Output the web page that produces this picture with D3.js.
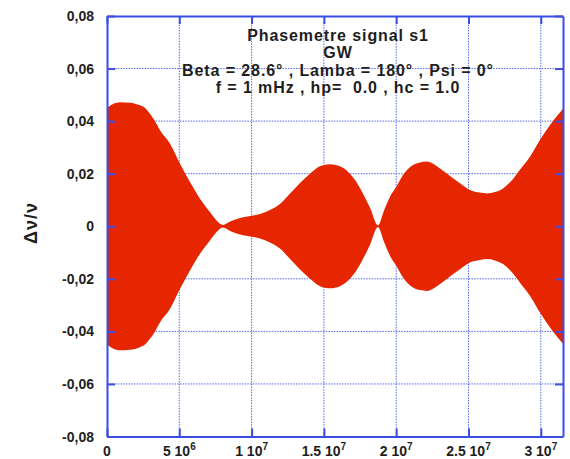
<!DOCTYPE html>
<html>
<head>
<meta charset="utf-8">
<script src="https://cdn.jsdelivr.net/npm/d3@7"></script>
<style>
  html, body { margin: 0; padding: 0; background: #fff; }
  svg { display: block; }
  text { font-family: "Liberation Sans", Arial, sans-serif; font-weight: bold; fill: #1e1e1e; white-space: pre; }
</style>
</head>
<body>
<svg id="chart" width="570" height="459"></svg>
<script>
// Time (in units of 1e6 s) and envelope amplitude of the s1 phasemeter signal
const timeMs = [0, 0.41, 0.90, 1.59, 2.28, 2.63, 2.97, 3.32, 3.67, 4.36, 5.05, 5.74, 6.43, 7.12, 7.61, 8.02,
  8.51, 9.13, 10.58, 11.27, 11.96, 12.66, 13.35, 14.04, 14.73, 15.42, 16.11, 16.80, 17.29, 17.70, 18.19, 18.74,
  19.16, 19.57, 20.06, 20.47, 21.16, 21.65, 22.13, 22.55, 23.03, 23.93, 24.55, 25.10, 25.79, 26.28, 26.83,
  27.39, 28.08, 28.56, 29.25, 29.94, 30.64, 31.536];
const amplitude = [0.0450, 0.0465, 0.0472, 0.0470, 0.0460, 0.0450, 0.0428, 0.0400, 0.0365, 0.0314, 0.0238,
  0.0168, 0.0105, 0.0054, 0.0020, 0.0005, 0.0018, 0.0030, 0.0047, 0.0062, 0.0085, 0.0125, 0.0165, 0.0200,
  0.0228, 0.0236, 0.0228, 0.0200, 0.0165, 0.0125, 0.0070, 0.0003, 0.0060, 0.0112, 0.0155, 0.0195, 0.0233,
  0.0243, 0.0246, 0.0238, 0.0220, 0.0183, 0.0158, 0.0138, 0.0128, 0.0125, 0.0130, 0.0144, 0.0180, 0.0215,
  0.0264, 0.0328, 0.0385, 0.0447];

const yTicks = [-0.08, -0.06, -0.04, -0.02, 0, 0.02, 0.04, 0.06, 0.08];
const yTickLabels = ["-0,08", "-0,06", "-0,04", "-0,02", "0", "0,02", "0,04", "0,06", "0,08"];
const xTicks = [0, 5e6, 1e7, 1.5e7, 2e7, 2.5e7, 3e7];
const xTickMantissa = ["0", "5", "1", "1.5", "2", "2.5", "3"];
const xTickExponent = ["", "6", "7", "7", "7", "7", "7"];
const titleLines = ["Phasemetre signal s1", "GW", "Beta = 28.6° , Lamba = 180° , Psi = 0°", "f = 1 mHz , hp=  0.0 , hc = 1.0"];

const margin = { left: 107, right: 7, top: 16, bottom: 22.5 };
const W = 570, H = 459;
const svg = d3.select("#chart");

const x = d3.scaleLinear().domain([0, 3.1536e7]).range([margin.left, W - margin.right]);
const y = d3.scaleLinear().domain([-0.08, 0.08]).range([H - margin.bottom, margin.top]);

const frameColor = "#3b4de3";
const gridColor = "#5466ee";
const fillColor = "#e62600";

// Dotted grid
const grid = svg.append("g");
grid.selectAll("line.gx").data(xTicks.slice(1)).join("line")
  .attr("x1", d => x(d)).attr("x2", d => x(d))
  .attr("y1", y(-0.08)).attr("y2", y(0.08))
  .attr("stroke", gridColor).attr("stroke-width", 1).attr("stroke-dasharray", "1.5,1.2");
grid.selectAll("line.gy").data(yTicks.slice(1, -1)).join("line")
  .attr("x1", x.range()[0]).attr("x2", x.range()[1])
  .attr("y1", d => y(d)).attr("y2", d => y(d))
  .attr("stroke", gridColor).attr("stroke-width", 1).attr("stroke-dasharray", "1.5,1.2");

// Title block
const title = svg.append("g");
titleLines.forEach((t, i) => {
  title.append("text")
    .attr("x", 338).attr("y", 41 + i * 17.3)
    .attr("text-anchor", "middle").attr("font-size", 16)
    .attr("letter-spacing", 0.9)
    .text(t);
});

// Signal envelope (fast oscillation fills the band)
const pts = timeMs.map((t, i) => ({ t: t * 1e6, a: amplitude[i] }));
const area = d3.area()
  .x(d => x(d.t))
  .y0(d => y(-d.a))
  .y1(d => y(d.a))
  .curve(d3.curveMonotoneX);
svg.append("path").datum(pts)
  .attr("d", area)
  .attr("fill", fillColor);

// Axes with inward ticks on all four sides
const axisLeft = d3.axisLeft(y).tickValues(yTicks).tickSizeInner(-8).tickSizeOuter(0).tickFormat("");
const axisRight = d3.axisRight(y).tickValues(yTicks).tickSizeInner(-8).tickSizeOuter(0).tickFormat("");
const axisBottom = d3.axisBottom(x).tickValues(xTicks).tickSizeInner(-8).tickSizeOuter(0).tickFormat("");
const axisTop = d3.axisTop(x).tickValues(xTicks).tickSizeInner(-8).tickSizeOuter(0).tickFormat("");

function styleAxis(g) {
  g.selectAll("path, line").attr("stroke", frameColor).attr("stroke-width", 2);
}
svg.append("g").attr("transform", `translate(${x.range()[0]},0)`).call(axisLeft).call(styleAxis);
svg.append("g").attr("transform", `translate(${x.range()[1]},0)`).call(axisRight).call(styleAxis);
svg.append("g").attr("transform", `translate(0,${y.range()[0]})`).call(axisBottom).call(styleAxis);
svg.append("g").attr("transform", `translate(0,${y.range()[1]})`).call(axisTop).call(styleAxis);

// Y tick labels
svg.append("g").selectAll("text").data(yTicks).join("text")
  .attr("x", 94).attr("y", d => y(d) + 5)
  .attr("text-anchor", "end").attr("font-size", 14)
  .text((d, i) => yTickLabels[i]);

// X tick labels with superscript exponents
const xl = svg.append("g").selectAll("text").data(xTicks).join("text")
  .attr("x", d => x(d)).attr("y", 456)
  .attr("text-anchor", "middle").attr("font-size", 14);
xl.each(function(d, i) {
  const t = d3.select(this);
  if (xTickExponent[i] === "") {
    t.text(xTickMantissa[i]);
  } else {
    t.append("tspan").text(xTickMantissa[i] + " 10");
    t.append("tspan").attr("dy", -6).attr("font-size", 10).text(xTickExponent[i]);
  }
});

// Y axis title
svg.append("text")
  .attr("transform", "translate(37,223) rotate(-90)")
  .attr("text-anchor", "middle").attr("font-size", 18)
  .attr("letter-spacing", 1)
  .text("Δν/ν");
</script>
</body>
</html>
